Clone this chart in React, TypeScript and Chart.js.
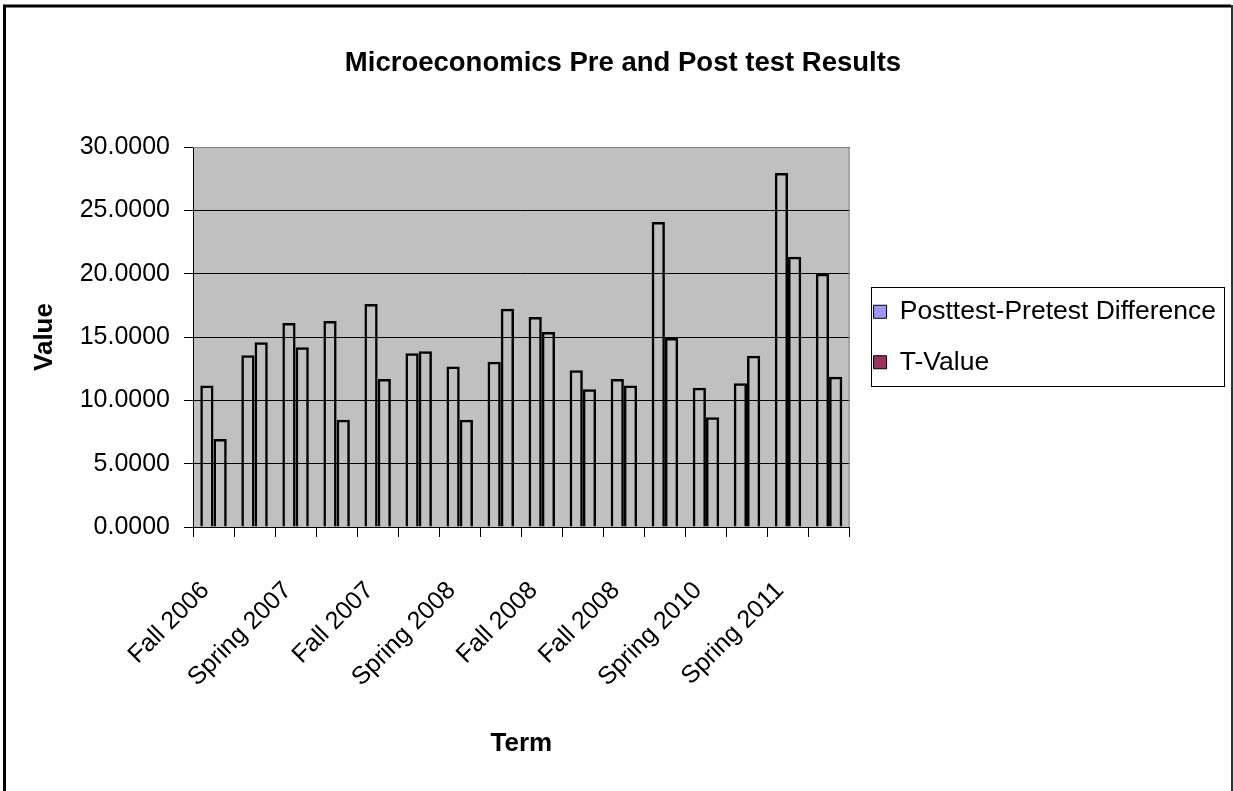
import React, { useEffect, useRef } from "react";
import { Chart, registerables } from "chart.js";

Chart.register(...registerables);

// Category labels (only every other label is printed in the source chart)
const termLabels = [
  "Fall 2006", "", "Spring 2007", "", "Fall 2007", "", "Spring 2008", "",
  "Fall 2008", "", "Fall 2008", "", "Spring 2010", "", "Spring 2011", "",
];
const differenceValues = [
  11.18, 13.55, 16.1, 16.26, 17.6, 13.71, 12.68, 13.05,
  16.58, 12.37, 11.68, 24.07, 11.0, 11.34, 27.94, 20.0,
];
const tValues = [
  6.95, 14.58, 14.2, 8.47, 11.68, 13.87, 8.47, 17.23,
  15.39, 10.87, 11.18, 14.92, 8.66, 13.52, 21.34, 11.87,
];
const seriesNames = ["Posttest-Pretest Difference", "T-Value"];
const legendColors = ["#9999FF", "#993366"];
const yMin = 0;
const yMax = 30;
const yStep = 5;

const FONT = "'Liberation Sans', Arial, Helvetica, sans-serif";

const framePlugin = {
  id: "frame",
  beforeDraw(chart: any) {
    const { ctx, width, height, chartArea: a } = chart;
    ctx.save();
    ctx.fillStyle = "#ffffff";
    ctx.fillRect(0, 0, width, height);
    ctx.fillStyle = "#C0C0C0";
    ctx.fillRect(a.left, a.top, a.right - a.left, a.bottom - a.top);
    ctx.strokeStyle = "#000";
    ctx.lineWidth = 3;
    ctx.beginPath();
    ctx.moveTo(4.5, height + 5);
    ctx.lineTo(4.5, 6);
    ctx.lineTo(1231, 6);
    ctx.stroke();
    ctx.lineWidth = 2;
    ctx.strokeStyle = "#333";
    ctx.beginPath();
    ctx.moveTo(1232, 5);
    ctx.lineTo(1232, height + 5);
    ctx.stroke();
    ctx.restore();
  },
  afterDatasetsDraw(chart: any) {
    const { ctx, chartArea: a } = chart;
    ctx.save();
    ctx.strokeStyle = "#808080";
    ctx.lineWidth = 1;
    ctx.beginPath();
    ctx.moveTo(a.left, a.top + 0.5);
    ctx.lineTo(a.right - 0.5, a.top + 0.5);
    ctx.lineTo(a.right - 0.5, a.bottom);
    ctx.stroke();
    ctx.restore();
  },
  afterDraw(chart: any) {
    const lg = chart.legend;
    if (!lg || !lg.legendHitBoxes || !lg.legendHitBoxes.length) return;
    const hb = lg.legendHitBoxes;
    const first = hb[0];
    const last = hb[hb.length - 1];
    let right = 0;
    hb.forEach((h: any) => { right = Math.max(right, h.left + h.width); });
    const left = first.left - 3;
    const top = first.top - 12;
    const bottom = last.top + last.height + 10;
    right = Math.min(right + 8, 1224);
    const ctx = chart.ctx;
    ctx.save();
    ctx.strokeStyle = "#000";
    ctx.lineWidth = 1;
    ctx.strokeRect(Math.round(left) + 0.5, Math.round(top) + 0.5, Math.round(right - left), Math.round(bottom - top));
    ctx.restore();
  },
};

export default function App() {
  const canvasRef = useRef<HTMLCanvasElement | null>(null);

  useEffect(() => {
    if (!canvasRef.current) return;
    const chart = new Chart(canvasRef.current, {
      type: "bar",
      data: {
        labels: termLabels,
        datasets: [
          {
            label: seriesNames[0],
            data: differenceValues,
            backgroundColor: "rgba(0,0,0,0)",
            borderColor: "#000",
            borderWidth: 2.5,
          },
          {
            label: seriesNames[1],
            data: tValues,
            backgroundColor: "rgba(0,0,0,0)",
            borderColor: "#000",
            borderWidth: 2.5,
          },
        ],
      },
      options: {
        responsive: false,
        animation: false,
        devicePixelRatio: 1,
        layout: { padding: { left: 20, right: 7, top: 0, bottom: 0 } },
        datasets: {
          bar: { categoryPercentage: 0.645, barPercentage: 1 },
        },
        plugins: {
          tooltip: { enabled: false },
          title: {
            display: true,
            text: "Microeconomics Pre and Post test Results",
            color: "#000",
            font: { family: FONT, size: 27.5, weight: "bold" },
            padding: { top: 46.5, bottom: 67.5 },
          },
          legend: {
            display: true,
            position: "right",
            fullSize: false,
            maxWidth: 420,
            labels: {
              boxWidth: 13,
              boxHeight: 13,
              padding: 24,
              color: "#000",
              font: { family: FONT, size: 26.5 },
              generateLabels: () =>
                seriesNames.map((name, i) => ({
                  text: name,
                  fillStyle: legendColors[i],
                  strokeStyle: "#000",
                  lineWidth: 1,
                  hidden: false,
                  datasetIndex: i,
                  fontColor: "#000",
                })),
            },
          },
        },
        scales: {
          x: {
            type: "category",
            offset: true,
            grid: {
              display: true,
              offset: true,
              drawOnChartArea: false,
              drawTicks: true,
              tickLength: 10,
              color: "#000",
              lineWidth: 1,
            },
            border: { display: true, color: "#000", width: 1 },
            ticks: {
              autoSkip: false,
              minRotation: 45,
              maxRotation: 45,
              padding: 39,
              labelOffset: -8,
              color: "#000",
              font: { family: FONT, size: 25 },
            },
            title: {
              display: true,
              text: "Term",
              color: "#000",
              font: { family: FONT, size: 26, weight: "bold" },
              padding: { top: 0, bottom: 32 },
            },
            afterFit: (scale: any) => {
              scale.height = 264;
            },
          },
          y: {
            min: yMin,
            max: yMax,
            ticks: {
              stepSize: yStep,
              padding: 14,
              color: "#000",
              font: { family: FONT, size: 25 },
              callback: (v: any) => Number(v).toFixed(4),
            },
            grid: {
              color: "#000",
              lineWidth: 1,
              drawTicks: true,
              tickLength: 9,
            },
            border: { display: true, color: "#000", width: 1 },
            title: {
              display: true,
              text: "Value",
              color: "#000",
              font: { family: FONT, size: 26, weight: "bold" },
              padding: { top: 9, bottom: 0 },
            },
            afterFit: (scale: any) => {
              scale.width = 173;
            },
          },
        },
      },
      plugins: [framePlugin],
    } as any);
    return () => chart.destroy();
  }, []);

  return (
    <div style={{ position: "fixed", left: 0, top: 0, width: 1233, height: 791, background: "#fff" }}>
      <canvas ref={canvasRef} width={1233} height={791} style={{ width: 1233, height: 791, display: "block" }} />
    </div>
  );
}
